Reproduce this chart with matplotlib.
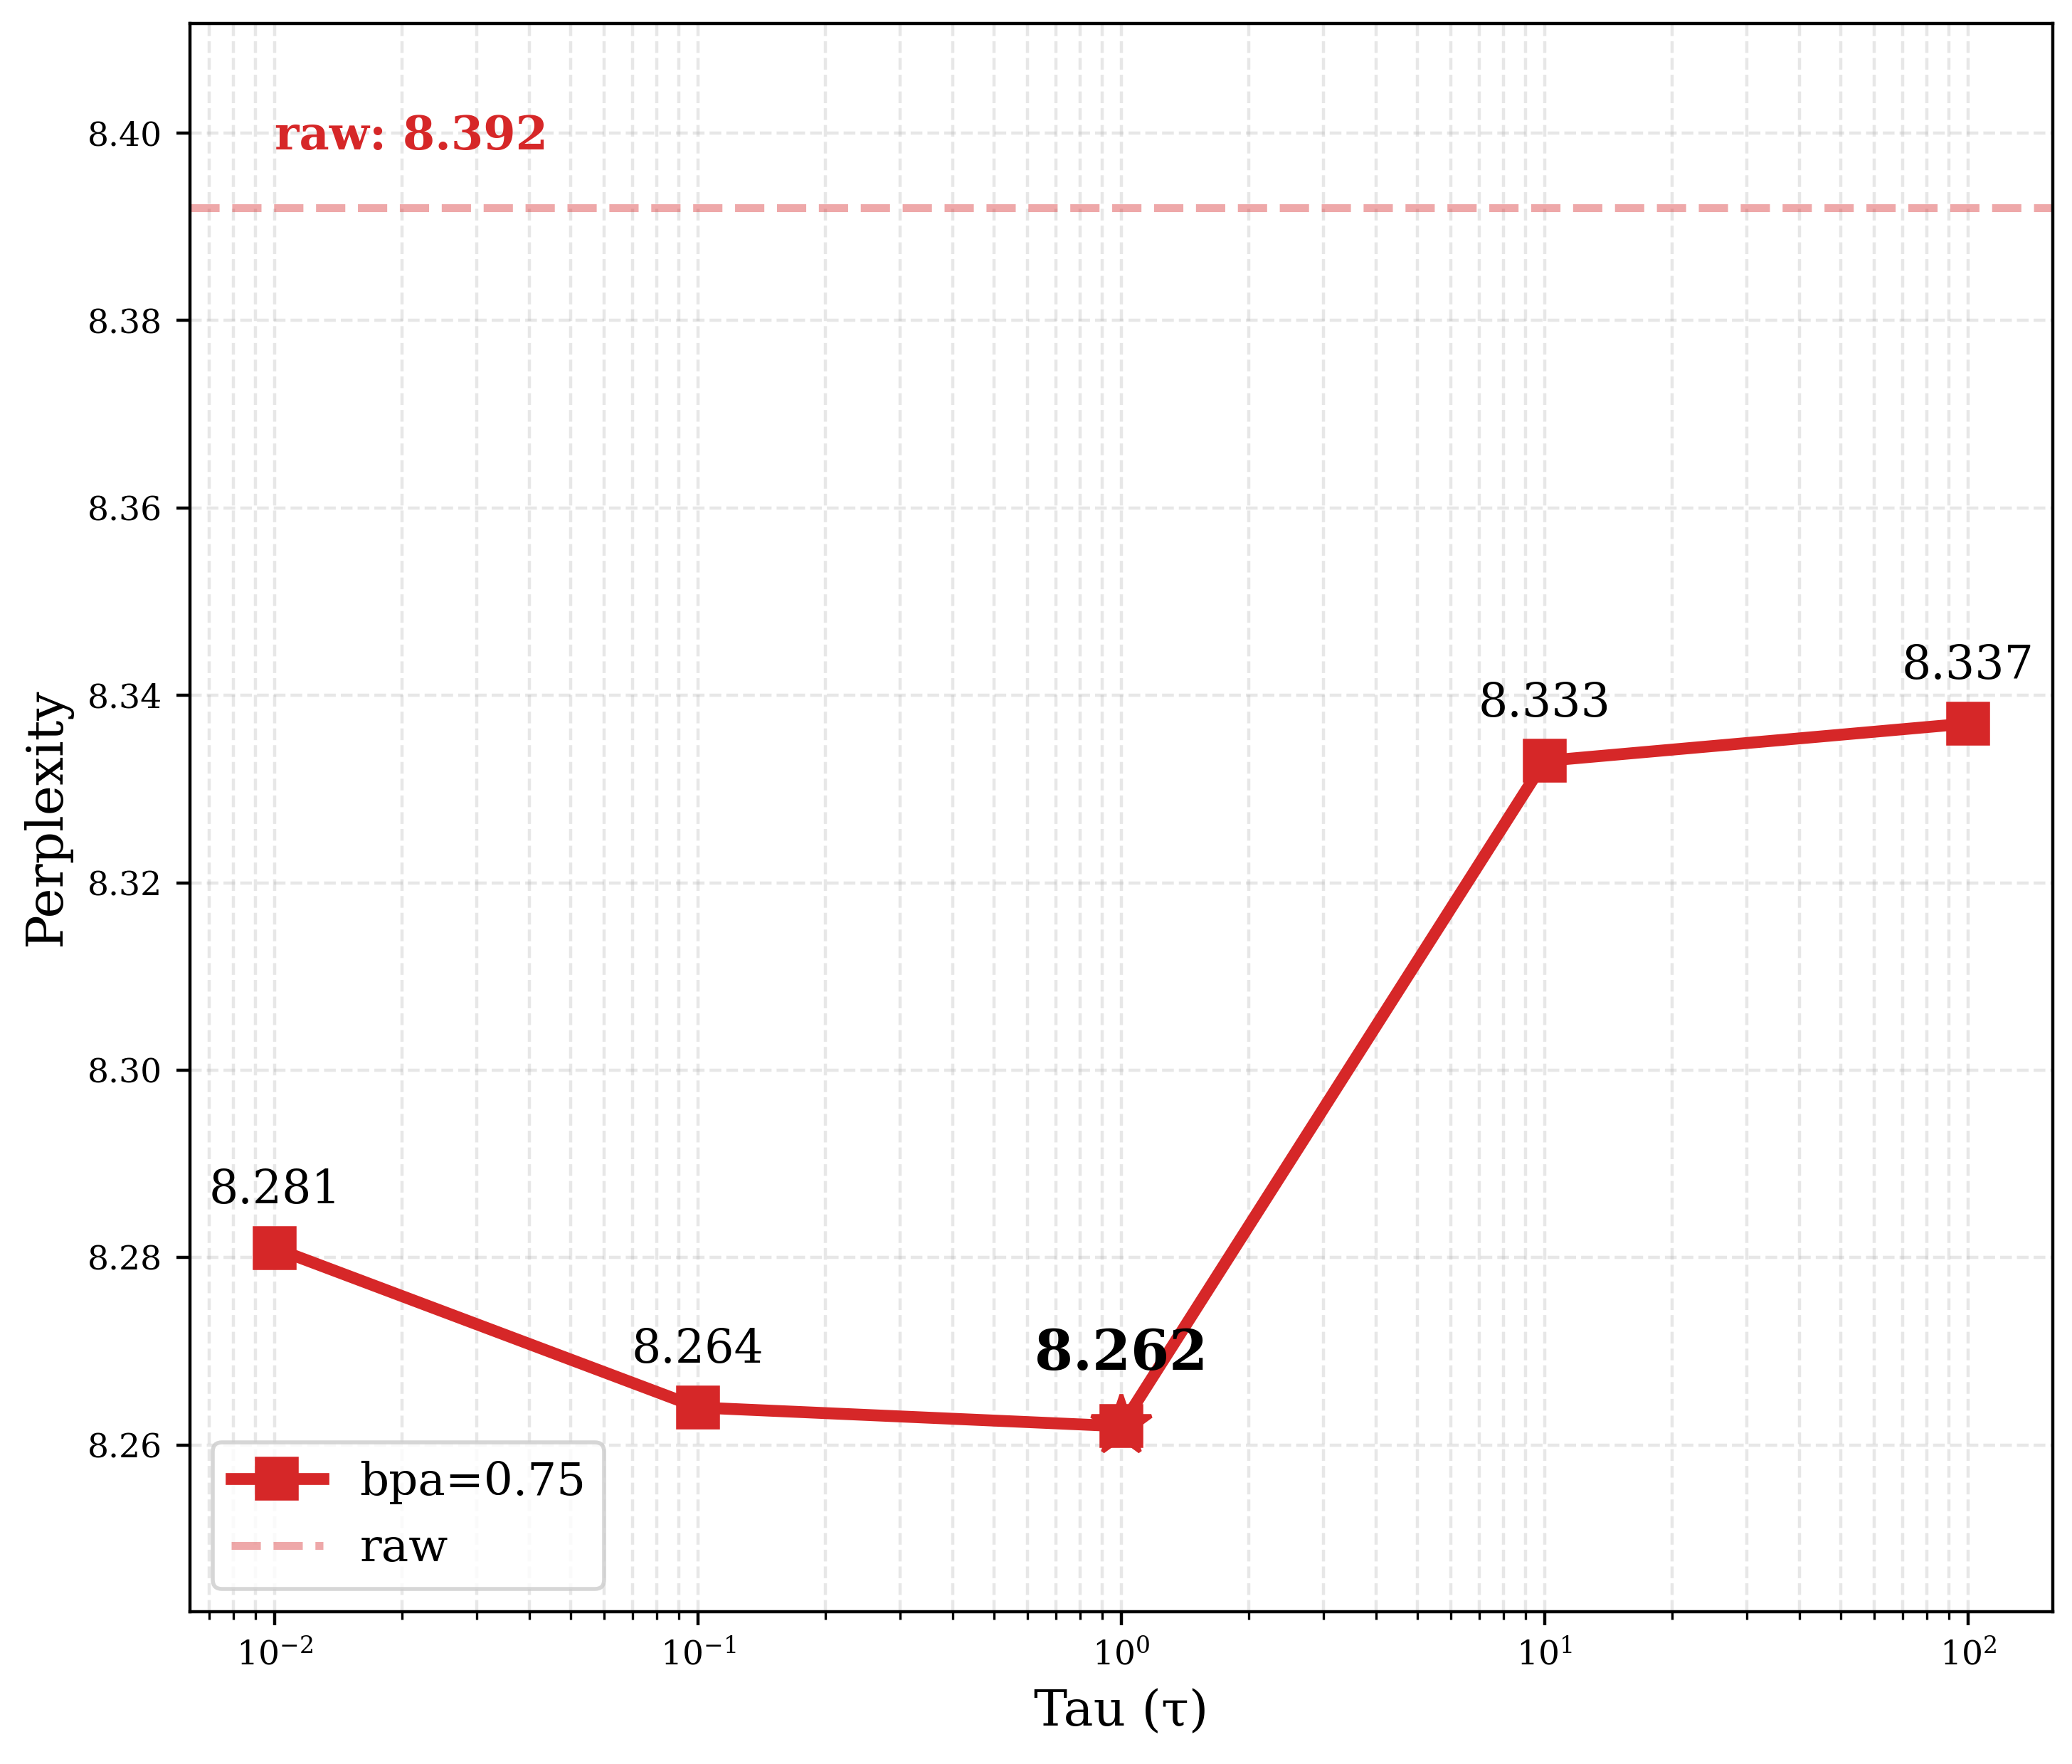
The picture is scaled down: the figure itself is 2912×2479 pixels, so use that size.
import matplotlib
matplotlib.use("Agg")
import matplotlib.pyplot as plt

plt.rcParams['font.family'] = ['DejaVu Serif']
plt.rcParams['mathtext.fontset'] = 'dejavuserif'

# Datos
taus = [0.01, 0.1, 1, 10, 100]
ppl = [8.281, 8.264, 8.262, 8.333, 8.337]
raw_ppl = 8.392
best_idx = 2
color = '#d62728'

fig = plt.figure(figsize=(7.28, 6.1975), dpi=400)
ax = fig.add_axes([0.0917, 0.0863, 0.899, 0.9004])

ax.plot(taus, ppl, marker='s', markersize=10, linewidth=3, color=color,
        label='bpa=0.75', zorder=3)
ax.plot(taus[best_idx], ppl[best_idx], marker='*', markersize=16, color=color,
        linestyle='none', zorder=4)
ax.axhline(raw_ppl, color=color, linestyle='--', linewidth=2, alpha=0.4,
           label='raw', zorder=2)

ax.set_xscale('log')
ax.set_ylim(min(ppl) - 0.0198, raw_ppl + 0.0197)

# Etiquetas de valores
for i, (t, v) in enumerate(zip(taus, ppl)):
    if i == best_idx:
        ax.text(t, v + 0.0048, f'{v:.3f}', ha='center', va='bottom',
                fontsize=14, fontweight='bold')
    else:
        ax.text(t, v + 0.0037, f'{v:.3f}', ha='center', va='bottom',
                fontsize=11.7)

ax.text(taus[0], raw_ppl + 0.0052, f'raw: {raw_ppl:.3f}', ha='left', va='bottom',
        fontsize=11.75, fontweight='bold', color=color)

ax.set_xlabel('Tau (τ)', fontsize=12.7)
ax.set_ylabel('Perplexity', fontsize=12.8)
ax.tick_params(axis='both', which='major', labelsize=8.5)
ax.grid(True, which='both', linestyle='--', alpha=0.3)
ax.legend(loc='lower left', fontsize=11.6)

fig.savefig('out.png', dpi=400)
plt.close(fig)
